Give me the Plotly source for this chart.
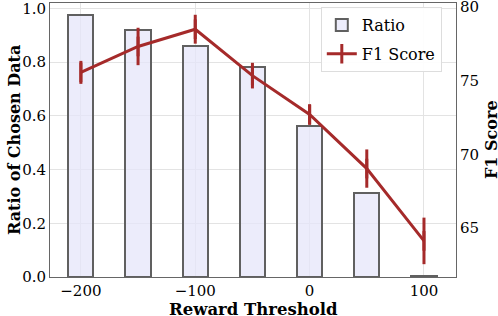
import plotly.graph_objects as go

thresholds = [-200, -150, -100, -50, 0, 50, 100]
ratio = [0.974, 0.918, 0.860, 0.783, 0.563, 0.311, 0.003]
f1 = [75.56, 77.32, 78.49, 75.34, 72.70, 69.03, 64.12]
f1_err = [0.78, 1.27, 0.98, 0.87, 0.70, 1.30, 1.58]
x_ticks = [-200, -100, 0, 100]
x_tick_labels = ["\u2212200", "\u2212100", "0", "100"]
y_ticks = [0.0, 0.2, 0.4, 0.6, 0.8, 1.0]
y_tick_labels = ["0.0", "0.2", "0.4", "0.6", "0.8", "1.0"]
y2_ticks = [65, 70, 75, 80]

FONT = "DejaVu Serif"
RED = "#a52a2a"

fig = go.Figure()
fig.add_trace(go.Bar(
    x=thresholds, y=ratio, name="Ratio", width=22, legendgroup="a",
    marker=dict(color="rgba(230,230,250,0.75)", line=dict(color="#606060", width=2)),
    yaxis="y",
))
fig.add_trace(go.Scatter(
    x=thresholds, y=f1, name="F1 Score", mode="lines+markers", legendgroup="b",
    line=dict(color=RED, width=3),
    marker=dict(symbol="line-ns", size=14, line=dict(color=RED, width=3), color=RED),
    error_y=dict(type="data", array=f1_err, color=RED, thickness=3, width=0),
    yaxis="y2",
))

axis_line = dict(showline=True, linecolor="#666666", linewidth=1, automargin=False)
fig.update_layout(
    width=498, height=316,
    margin=dict(l=50, r=42, t=3, b=39),
    plot_bgcolor="white", paper_bgcolor="white",
    font=dict(family=FONT, size=15, color="black"),
    bargap=0,
    xaxis=dict(
        range=[-227, 128], tickvals=x_ticks, ticktext=x_tick_labels,
        showgrid=True, gridcolor="#e3e3e3", gridwidth=1, zeroline=False,
        ticks="", ticklabeloverflow="allow",
        mirror=True, **axis_line,
    ),
    yaxis=dict(
        range=[0, 1.02], tickvals=y_ticks, ticktext=y_tick_labels,
        showgrid=True, gridcolor="#e3e3e3", gridwidth=1, zeroline=False,
        ticks="", ticklabeloverflow="allow",
        **axis_line,
    ),
    yaxis2=dict(
        range=[61.67, 80.27], tickvals=y2_ticks, overlaying="y", side="right",
        showgrid=False, zeroline=False,
        ticks="", ticklabeloverflow="allow",
        **axis_line,
    ),
    legend=dict(
        x=0.667, y=0.985, xanchor="left", yanchor="top",
        bgcolor="rgba(255,255,255,0.9)", bordercolor="#dddddd", borderwidth=1,
        font=dict(size=16), traceorder="grouped", tracegroupgap=5,
    ),
    showlegend=True,
    annotations=[
        dict(text="<b>Reward Threshold</b>", xref="paper", yref="paper",
             x=0.5, y=-0.0, yshift=-32, xanchor="center", yanchor="middle",
             showarrow=False, font=dict(size=16.5)),
        dict(text="<b>Ratio of Chosen Data</b>", xref="paper", yref="paper",
             x=0, xshift=-36, y=0.5, xanchor="center", yanchor="middle",
             textangle=-90, showarrow=False, font=dict(size=16)),
        dict(text="<b>F1 Score</b>", xref="paper", yref="paper",
             x=1, xshift=35, y=0.5, xanchor="center", yanchor="middle",
             textangle=-90, showarrow=False, font=dict(size=16)),
    ],
)
fig.write_html("out.html", config={"displayModeBar": False},
               post_script="document.body.style.margin='0';document.body.style.overflow='hidden';")
